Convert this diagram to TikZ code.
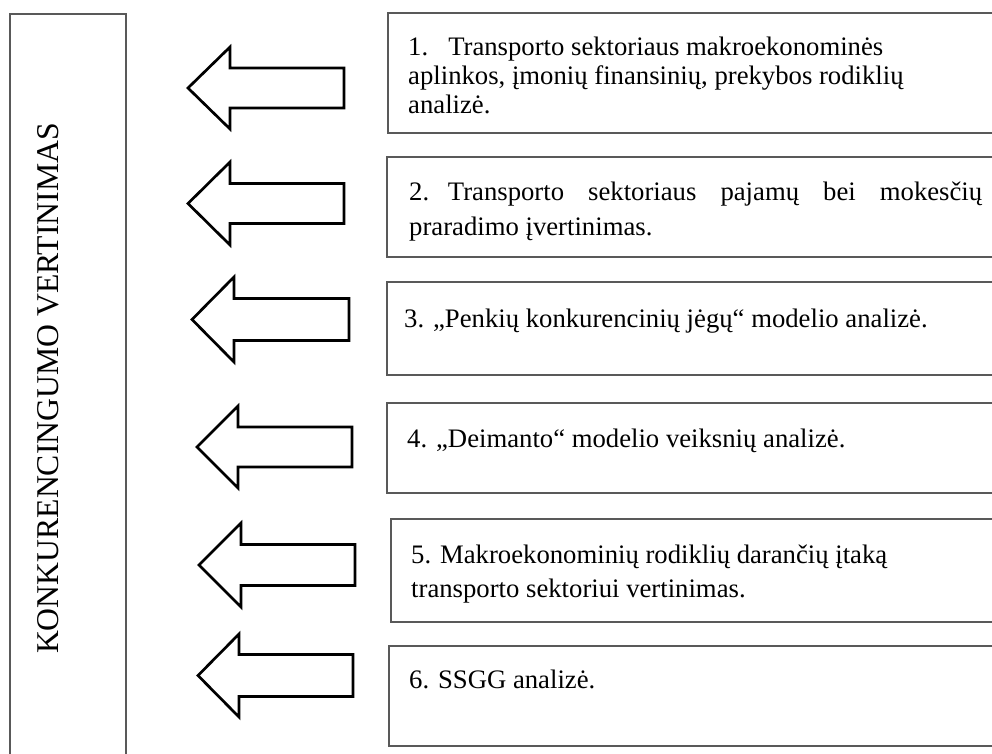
\documentclass[tikz,border=0pt]{standalone}
\usepackage{fontspec}
\setmainfont{Liberation Serif}
\newcommand\blockarrow[6]{%
  \draw[bigarrow] (#1,#2) -- (#3,#2-#4) -- (#3,#2-#5) -- (#6,#2-#5) -- (#6,#2+#5) -- (#3,#2+#5) -- (#3,#2+#4) -- cycle;}
\begin{document}
\begin{tikzpicture}[x=1pt,y=-1pt,
  boxline/.style={draw=black!65, line width=1.6pt},
  bigarrow/.style={draw=black, line width=2.7pt, line join=miter, fill=white},
  body/.style={font=\fontsize{26.7}{30}\selectfont, inner sep=0pt, anchor=base west},
  titletext/.style={font=\fontsize{31.7}{36}\selectfont, rotate=90, inner sep=0pt, anchor=base}]
\useasboundingbox (0,0) rectangle (992,753);
\clip (0,0) rectangle (992,753);
\fill[white] (0,0) rectangle (992,753);
% left box
\draw[boxline] (10,800) -- (10,14) -- (126,14) -- (126,800);
\node[titletext] (title) at (58,388.5) {KONKURENCINGUMO VERTINIMAS};
% right boxes
\draw[boxline] (388,13) rectangle (1010,133);
\draw[boxline] (387,157) rectangle (1010,257);
\draw[boxline] (387,282) rectangle (1010,375);
\draw[boxline] (387,403) rectangle (1010,493);
\draw[boxline] (391,519) rectangle (1010,622);
\draw[boxline] (389,646) rectangle (1010,746);
% arrows
\blockarrow{188}{88}{230}{41}{20}{344}
\blockarrow{188}{203.5}{230}{41.5}{20}{344}
\blockarrow{192}{319.5}{234}{42.5}{21}{349}
\blockarrow{197}{447}{238}{41}{20}{352}
\blockarrow{199}{565}{241}{42}{20.5}{355}
\blockarrow{198}{675.5}{239}{41.5}{21}{353}
% texts
\node[body] (t1a) at (408,55) {1.\hspace{0.75em}Transporto sektoriaus makroekonominės};
\node[body] (t1b) at (408,84) {aplinkos, įmonių finansinių, prekybos rodiklių};
\node[body] (t1c) at (408,113) {analizė.};
\node[body] (t2a) at (409,200) {\makebox[573pt][s]{2.\hspace{0.7em}Transporto sektoriaus pajamų bei mokesčių}};
\node[body] (t2b) at (409,235) {praradimo įvertinimas.};
\node[body] (t3) at (404,327) {3. „Penkių konkurencinių jėgų“ modelio analizė.};
\node[body] (t4) at (407,447) {4. „Deimanto“ modelio veiksnių analizė.};
\node[body] (t5a) at (411,563) {5. Makroekonominių rodiklių darančių įtaką};
\node[body] (t5b) at (411,597) {transporto sektoriui vertinimas.};
\node[body] (t6) at (409,688) {6. SSGG analizė.};
\end{tikzpicture}
\end{document}
